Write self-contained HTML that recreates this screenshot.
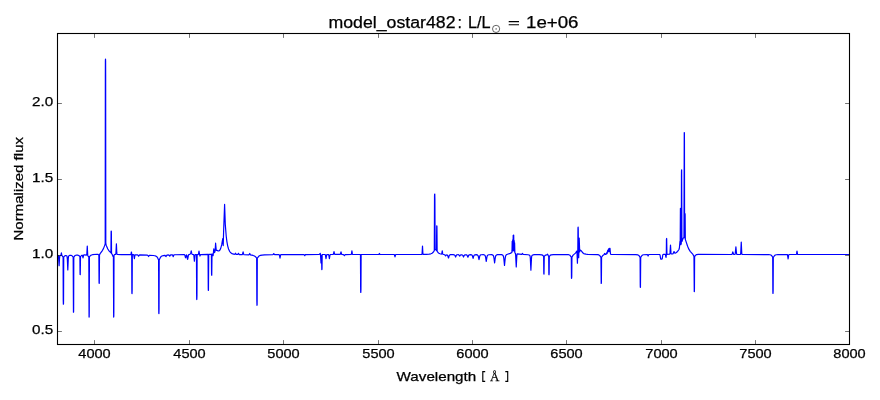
<!DOCTYPE html>
<html><head><meta charset="utf-8"><style>
html,body{margin:0;padding:0;background:#fff;}
svg{display:block;will-change:transform;}
text{font-family:"Liberation Sans",sans-serif;fill:#000;stroke:#000;stroke-width:0.25px;}
</style></head><body>
<svg width="880" height="400" viewBox="0 0 880 400">
<rect width="880" height="400" fill="#fff"/>
<defs><clipPath id="ax"><rect x="57.5" y="33.5" width="792.0" height="311.0"/></clipPath></defs>
<path clip-path="url(#ax)" d="M57.00 254.90 58.10 255.42 58.32 255.69 58.47 256.18 59.10 265.72 59.57 257.55 59.85 255.86 60.12 255.57 60.92 255.20 61.40 252.82 61.87 255.49 63.07 257.05 63.10 257.23 63.25 300.20 63.37 304.25 63.50 303.87 63.55 300.21 63.72 257.07 64.62 255.95 65.42 255.54 65.95 255.54 66.42 255.70 66.87 256.05 67.07 256.44 67.35 259.15 67.80 270.01 68.27 258.66 68.57 256.25 68.92 255.79 69.52 255.42 70.22 255.26 70.97 255.29 72.07 255.77 73.17 257.03 73.45 312.18 73.55 312.18 73.60 311.74 73.65 307.47 73.80 257.23 73.82 257.02 74.60 256.05 75.15 255.56 75.82 255.24 76.67 255.08 77.60 255.09 78.82 255.49 79.90 256.60 80.05 273.10 80.10 274.51 80.25 274.66 80.50 256.59 81.45 255.53 81.95 255.23 82.22 255.22 82.47 255.69 83.00 257.94 83.52 255.53 83.80 254.95 84.45 254.84 86.52 255.04 86.67 254.94 86.87 253.55 87.27 246.11 87.72 255.10 87.90 255.77 88.77 256.89 88.80 257.10 89.05 317.03 89.15 317.03 89.20 316.56 89.25 311.89 89.42 256.87 90.22 255.85 90.77 255.35 91.50 254.98 92.47 254.72 97.20 254.24 98.02 254.44 98.87 255.07 99.05 280.94 99.10 283.12 99.15 283.33 99.27 283.22 99.50 254.88 100.32 253.32 102.35 250.55 103.45 248.61 104.72 245.36 105.17 243.83 105.20 243.14 105.35 75.32 105.40 60.94 105.50 59.11 105.60 60.93 105.65 75.32 105.80 243.13 105.82 243.82 106.40 245.71 107.80 249.03 109.22 251.15 110.95 252.75 111.10 232.83 111.15 231.17 111.25 231.09 111.35 231.36 111.55 253.32 112.25 254.45 113.02 256.46 113.20 256.65 113.37 256.57 113.40 256.74 113.65 317.04 113.80 316.23 113.85 311.40 114.00 255.50 114.07 255.16 114.50 254.65 114.97 254.42 115.70 254.30 115.87 253.99 116.40 243.83 116.80 252.93 116.92 254.02 117.07 254.33 121.22 254.53 130.72 254.64 131.00 254.30 131.32 252.24 131.40 252.06 131.45 252.14 131.67 253.66 131.72 255.30 131.85 290.14 131.90 293.25 132.02 293.65 132.15 290.35 132.32 254.68 133.52 254.70 133.77 254.87 134.40 258.71 134.90 255.26 135.07 254.83 135.32 254.74 137.62 254.86 137.90 255.09 138.60 256.13 139.35 255.08 139.82 254.89 147.45 255.21 147.87 255.45 148.60 256.51 149.30 255.51 149.65 255.28 153.22 255.49 154.85 255.78 156.00 256.17 156.82 256.72 157.47 257.53 158.60 259.90 158.75 309.08 158.80 313.28 158.92 313.71 159.05 309.08 159.20 259.89 160.50 257.23 161.12 256.53 161.90 256.04 163.27 255.59 164.92 255.32 165.27 255.50 165.80 256.40 166.00 256.54 166.92 255.15 168.50 254.94 169.00 255.13 169.75 256.16 170.67 254.91 172.10 254.78 172.57 255.05 173.25 256.64 173.90 255.06 174.32 254.73 184.30 254.61 184.60 254.73 184.82 255.08 185.40 257.41 185.60 257.78 185.80 257.41 186.32 255.23 186.50 254.94 186.67 255.00 186.92 255.75 187.40 258.81 187.60 259.37 187.77 258.94 188.47 255.01 188.77 254.63 189.80 254.36 190.30 253.80 190.72 252.96 191.22 250.87 191.72 253.46 191.95 254.08 192.47 254.48 193.60 254.59 193.80 254.93 194.40 261.25 195.02 254.84 195.27 254.56 196.47 254.55 196.65 295.71 196.70 299.19 196.82 299.54 196.95 295.71 197.12 254.55 198.15 254.53 198.40 254.34 199.00 251.04 199.52 254.40 199.97 256.02 200.47 254.78 200.75 254.55 208.07 254.45 208.25 287.38 208.30 290.16 208.32 290.39 208.45 290.43 208.70 254.55 208.75 254.42 211.40 254.26 211.55 273.38 211.60 274.99 211.62 275.12 211.75 275.12 212.00 254.14 212.32 254.00 212.55 254.09 212.97 255.50 213.05 255.63 213.12 255.55 213.80 248.81 214.32 252.32 214.55 252.53 214.90 252.00 215.15 250.24 215.60 243.21 216.22 250.17 216.35 250.36 217.02 250.39 218.17 250.97 218.85 250.98 219.50 250.55 220.12 249.66 220.72 248.32 221.72 244.64 222.75 238.62 222.90 239.40 223.22 245.55 223.65 230.18 224.60 204.45 225.30 224.61 226.22 236.24 226.90 241.59 227.67 245.83 228.55 248.98 229.60 251.29 230.50 252.49 231.55 253.35 232.85 253.94 234.47 254.29 234.92 254.16 235.50 253.21 236.05 254.22 236.40 254.46 237.77 254.46 238.50 253.35 239.02 254.30 239.30 254.53 242.20 254.59 242.55 254.11 243.10 251.84 243.67 254.21 243.82 254.50 244.05 254.64 248.92 254.83 249.20 254.61 249.75 253.43 250.50 254.94 253.05 255.46 254.52 256.00 255.47 256.69 256.67 258.16 256.85 301.26 256.97 305.29 257.10 304.90 257.15 301.25 257.30 258.30 257.32 258.12 258.72 256.34 259.47 255.81 260.42 255.43 262.12 255.08 264.50 254.84 272.87 254.58 273.20 254.41 273.77 253.59 274.27 254.37 274.57 254.56 279.17 254.64 279.45 255.22 280.00 258.15 280.57 255.12 280.75 254.71 281.02 254.56 303.75 254.52 304.17 254.71 304.75 255.71 305.30 254.74 305.62 254.53 319.10 254.50 319.52 254.32 320.17 253.35 320.35 253.70 320.50 254.83 321.00 262.92 321.55 255.31 321.80 269.56 321.95 269.40 322.00 268.23 322.17 254.51 324.85 254.51 325.20 254.63 325.47 255.42 326.00 258.71 326.52 255.42 326.75 254.69 327.10 254.51 328.52 254.57 328.85 255.29 329.40 258.71 329.92 255.42 330.15 254.69 330.47 254.51 333.20 254.42 333.47 253.86 334.00 251.51 334.55 253.95 334.87 254.46 340.15 254.46 340.45 254.02 341.00 251.91 341.72 254.37 341.97 254.49 343.47 254.59 344.40 255.71 345.12 254.74 345.50 254.53 351.17 254.45 351.45 253.79 351.90 250.90 352.37 253.91 352.67 254.48 360.47 254.51 360.65 289.27 360.70 292.21 360.82 292.50 360.95 289.27 361.12 254.51 378.42 254.50 378.82 254.34 379.40 253.50 379.97 254.34 380.35 254.50 393.97 254.51 394.25 254.61 394.42 254.88 395.00 256.90 395.57 254.88 395.75 254.61 396.00 254.51 421.75 254.44 421.97 254.18 422.10 253.32 422.50 246.14 422.87 253.00 423.00 254.07 423.15 254.39 426.35 254.35 429.12 254.14 430.82 253.80 432.07 253.24 433.22 252.22 434.30 250.61 434.52 196.89 434.60 194.33 434.77 194.02 434.90 199.37 435.10 249.60 435.72 249.56 436.45 250.31 436.47 250.21 436.72 225.75 436.90 226.11 436.95 227.31 437.15 251.38 438.00 252.48 438.92 253.25 440.05 253.77 441.45 254.08 441.62 253.99 441.77 253.61 442.25 250.92 442.70 253.63 442.92 254.22 444.65 254.72 445.60 255.96 446.45 254.98 446.87 254.89 447.30 255.04 447.82 255.81 448.47 257.97 448.62 257.81 449.07 256.08 449.40 255.33 449.87 254.87 450.62 254.64 452.95 254.58 454.30 254.82 454.87 255.36 455.60 257.02 456.40 255.26 456.75 254.93 457.22 254.75 458.07 254.70 458.75 254.87 459.10 255.15 459.75 256.06 460.37 255.19 460.72 254.90 461.37 254.75 462.12 254.85 462.75 255.36 463.50 257.05 464.15 255.54 464.50 255.07 465.15 254.78 466.12 254.76 466.67 254.94 467.07 255.31 467.90 257.25 468.52 255.67 468.87 255.13 469.47 254.80 470.42 254.70 471.47 254.85 472.10 255.31 472.45 256.02 473.10 258.30 473.75 256.03 474.17 255.22 474.92 254.80 476.25 254.71 477.37 254.95 478.00 255.56 478.35 256.51 479.00 259.54 479.70 256.33 480.20 255.27 480.62 254.94 481.22 254.76 483.30 254.70 484.55 255.02 484.92 255.35 485.22 255.85 485.60 257.20 486.25 261.29 486.97 256.83 487.22 255.97 487.55 255.38 488.05 254.97 488.77 254.75 491.55 254.71 492.32 254.86 492.85 255.10 493.25 255.51 493.55 256.11 493.95 257.88 494.60 263.02 495.35 257.27 495.65 256.10 496.05 255.37 496.65 254.93 497.60 254.70 499.57 254.60 501.45 254.68 502.22 254.86 502.75 255.16 503.15 255.68 503.45 256.44 503.85 258.71 504.50 265.34 505.25 257.85 505.55 256.31 505.92 255.37 506.32 254.86 506.85 254.51 510.22 253.37 511.87 252.42 512.00 250.90 512.20 241.24 512.45 251.03 512.70 239.82 512.95 250.33 513.20 235.23 513.45 250.48 513.70 235.15 513.95 251.07 514.20 240.51 514.40 249.67 514.60 242.76 514.85 252.47 514.92 252.90 515.40 253.42 515.60 254.56 516.25 267.01 516.82 255.84 517.00 254.33 517.22 253.86 521.62 254.35 521.95 254.20 522.50 253.42 523.02 254.22 523.30 254.42 528.12 254.75 529.12 255.03 529.80 255.52 530.10 256.23 530.30 257.95 530.90 270.21 531.50 257.96 531.67 256.37 531.95 255.59 532.35 255.22 532.90 254.96 534.55 254.68 539.22 254.62 541.85 254.86 542.85 255.36 543.65 256.43 543.80 272.53 543.85 273.92 544.00 274.07 544.25 256.45 545.15 255.34 545.67 255.09 546.65 254.89 547.45 254.19 547.72 254.49 548.70 256.60 548.85 273.18 548.90 274.60 549.02 274.76 549.15 273.17 549.30 256.60 550.05 255.48 550.55 255.10 551.20 254.85 553.47 254.61 565.15 254.51 568.65 254.71 569.42 254.96 570.02 255.37 571.30 257.22 571.45 276.48 571.50 278.12 571.62 278.29 571.75 276.45 571.92 257.07 573.12 255.13 575.50 253.10 576.82 251.10 577.02 252.81 577.42 263.27 577.82 249.23 577.97 228.07 578.12 227.14 578.25 229.21 578.37 249.05 578.70 257.75 579.20 238.03 579.70 251.95 580.00 250.19 580.20 249.89 581.15 250.67 583.02 253.07 583.77 253.60 584.67 253.96 585.92 254.21 587.67 254.36 597.52 254.64 598.90 254.95 599.82 255.63 600.95 257.40 601.20 283.48 601.30 283.48 601.35 283.26 601.40 281.23 601.57 257.29 602.72 255.56 603.97 254.66 604.57 253.45 604.75 253.56 605.15 254.33 605.45 254.48 605.85 254.42 606.07 254.23 606.60 252.75 606.97 253.56 607.10 253.61 607.57 250.71 607.67 250.76 607.92 251.98 608.02 251.91 608.40 249.16 608.72 251.20 608.82 251.27 609.17 248.47 609.60 251.66 610.00 248.34 610.45 253.47 610.60 254.07 610.87 254.28 613.97 254.48 635.82 254.59 637.92 254.92 638.57 255.27 639.10 255.79 640.10 257.43 640.25 284.72 640.30 287.04 640.35 287.29 640.45 287.29 640.70 257.43 641.97 255.48 642.65 255.01 643.57 254.73 647.15 254.53 647.52 254.76 648.10 256.01 648.67 254.75 649.02 254.52 659.55 254.48 659.85 254.68 660.05 255.21 660.67 258.91 660.80 259.05 661.12 258.83 661.50 259.21 661.82 258.94 662.10 259.00 662.20 258.81 662.70 255.39 662.95 254.60 663.27 254.43 665.12 254.40 665.35 254.50 665.50 254.80 665.87 257.03 666.02 257.36 666.32 255.11 666.45 240.32 666.50 238.89 666.67 238.46 666.92 254.35 669.52 254.23 669.82 253.98 670.05 252.41 670.50 245.16 670.97 252.63 671.12 253.70 671.30 254.02 672.52 253.91 673.05 253.69 674.00 251.59 674.17 251.72 674.62 252.80 674.87 253.11 675.25 253.12 676.00 252.75 677.60 251.44 678.95 249.49 679.22 248.76 679.42 247.61 679.95 241.44 680.05 241.19 680.20 241.79 680.42 208.45 680.60 209.57 680.65 212.41 680.77 243.67 680.80 244.73 681.00 244.38 681.27 243.54 681.32 240.92 681.45 176.66 681.50 170.89 681.65 169.86 681.90 241.31 681.92 241.47 683.12 238.34 683.55 237.73 683.97 237.50 684.25 132.59 684.35 132.66 684.40 133.51 684.45 141.68 684.60 237.56 684.70 237.97 684.72 237.24 684.85 215.42 684.97 213.53 685.10 213.99 685.15 216.04 685.32 239.33 687.60 246.20 688.85 249.18 690.20 251.33 692.70 254.07 693.97 256.38 694.25 291.64 694.35 291.67 694.40 291.40 694.45 288.68 694.60 256.68 695.65 255.17 696.62 254.55 698.25 254.35 731.62 254.49 731.92 254.38 732.12 254.09 732.80 251.90 733.60 254.31 733.92 254.48 734.80 254.48 735.07 254.22 735.27 253.37 735.90 246.90 736.47 252.99 736.75 254.28 737.12 254.49 740.35 254.48 740.60 254.07 740.75 252.81 741.25 242.00 741.72 252.44 741.87 253.95 742.10 254.46 768.67 254.60 770.00 254.75 770.87 255.02 771.52 255.48 772.12 256.27 772.70 257.33 772.85 290.31 772.90 293.14 773.02 293.49 773.15 290.43 773.30 257.54 774.42 255.76 775.30 255.04 776.32 254.73 778.00 254.58 787.15 254.53 787.37 254.75 787.52 255.22 788.10 259.00 788.65 255.34 788.92 254.61 789.30 254.50 796.25 254.46 796.52 253.93 797.00 251.00 797.50 254.03 797.67 254.41 797.92 254.50 850.47 254.50" fill="none" stroke="#0000ff" stroke-width="1.2" stroke-linejoin="round"/>
<path d="M94.5 344.5V340.1M94.5 33.5V37.9M189.5 344.5V340.1M189.5 33.5V37.9M283.5 344.5V340.1M283.5 33.5V37.9M378.5 344.5V340.1M378.5 33.5V37.9M472.5 344.5V340.1M472.5 33.5V37.9M566.5 344.5V340.1M566.5 33.5V37.9M661.5 344.5V340.1M661.5 33.5V37.9M755.5 344.5V340.1M755.5 33.5V37.9M849.5 344.5V340.1M849.5 33.5V37.9M57.5 331.5H61.9M849.5 331.5H845.1M57.5 255.5H61.9M849.5 255.5H845.1M57.5 179.5H61.9M849.5 179.5H845.1M57.5 103.5H61.9M849.5 103.5H845.1" stroke="#000" stroke-width="0.55" fill="none"/>
<rect x="57.5" y="33.5" width="792.0" height="311.0" fill="none" stroke="#000" stroke-width="1.1"/>
<g font-size="13.3"><text x="78.3" y="357.9" textLength="32.4" lengthAdjust="spacingAndGlyphs">4000</text><text x="173.3" y="357.9" textLength="32.4" lengthAdjust="spacingAndGlyphs">4500</text><text x="267.3" y="357.9" textLength="32.4" lengthAdjust="spacingAndGlyphs">5000</text><text x="362.3" y="357.9" textLength="32.4" lengthAdjust="spacingAndGlyphs">5500</text><text x="456.3" y="357.9" textLength="32.4" lengthAdjust="spacingAndGlyphs">6000</text><text x="550.3" y="357.9" textLength="32.4" lengthAdjust="spacingAndGlyphs">6500</text><text x="645.3" y="357.9" textLength="32.4" lengthAdjust="spacingAndGlyphs">7000</text><text x="739.3" y="357.9" textLength="32.4" lengthAdjust="spacingAndGlyphs">7500</text><text x="833.3" y="357.9" textLength="32.4" lengthAdjust="spacingAndGlyphs">8000</text><text x="32.1" y="334.1" textLength="21.2" lengthAdjust="spacingAndGlyphs">0.5</text><text x="32.1" y="258.1" textLength="21.2" lengthAdjust="spacingAndGlyphs">1.0</text><text x="32.1" y="182.1" textLength="21.2" lengthAdjust="spacingAndGlyphs">1.5</text><text x="32.1" y="106.1" textLength="21.2" lengthAdjust="spacingAndGlyphs">2.0</text></g>
<g font-size="13.3"><text x="396.6" y="380.9" textLength="79.6" lengthAdjust="spacingAndGlyphs">Wavelength</text><text x="489.9" y="380.5" font-size="12.5" style="font-family:'Liberation Serif',serif" textLength="9.4" lengthAdjust="spacingAndGlyphs">Å</text></g>
<text transform="translate(23 240.5) rotate(-90)" x="0" y="0" font-size="13.3" textLength="103.5" lengthAdjust="spacingAndGlyphs">Normalized flux</text>
<g font-size="16">
<text x="328.5" y="27.8" textLength="127" lengthAdjust="spacingAndGlyphs">model_ostar482</text><text x="457.6" y="27.8">:</text>
<text x="468" y="27.8" textLength="22.5" lengthAdjust="spacingAndGlyphs">L/L</text>
<path d="M508.7 21.6H519M508.7 24.8H519" stroke="#000" stroke-width="1.05"/>
<text x="526" y="27.8" textLength="52.5" lengthAdjust="spacingAndGlyphs">1e+06</text>
</g>
<path d="M485.2 371.6H482.8V381.3H485.2M505.3 371.6H507.7V381.3H505.3" fill="none" stroke="#000" stroke-width="1.15"/>
<circle cx="496.1" cy="28.9" r="3.6" fill="none" stroke="#000" stroke-width="0.6"/>
<circle cx="496.1" cy="28.9" r="0.55" fill="#000"/>
</svg>
</body></html>
